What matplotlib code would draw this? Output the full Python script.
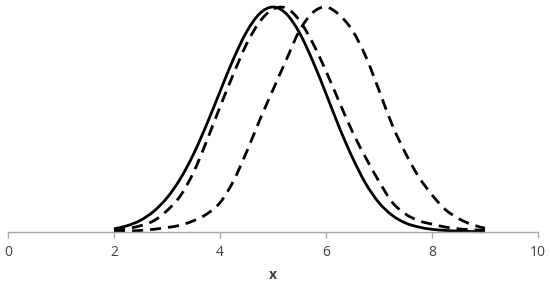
import matplotlib
matplotlib.use("Agg")
import matplotlib.pyplot as plt
from matplotlib.path import Path
from matplotlib.patches import PathPatch

x_vals = [2.0, 2.25, 2.5, 2.75, 3.0, 3.25, 3.5, 3.75, 4.0, 4.25, 4.5, 4.75, 5.0, 5.25,
          5.5, 5.75, 6.0, 6.25, 6.5, 6.75, 7.0, 7.25, 7.5, 7.75, 8.0, 8.25, 8.5, 8.75, 9.0]

solid_a = [0.014, 0.028, 0.052, 0.092, 0.152, 0.236, 0.346, 0.479, 0.624, 0.767, 0.889, 0.971,
           1.0, 0.97, 0.885, 0.76, 0.615, 0.465, 0.33, 0.215, 0.13, 0.074, 0.04, 0.022,
           0.012, 0.007, 0.004, 0.002, 0.001]

dashed_b = [0.008, 0.015, 0.028, 0.05, 0.095, 0.16, 0.265, 0.405, 0.556, 0.70, 0.835, 0.935,
            0.99, 0.995, 0.94, 0.84, 0.715, 0.578, 0.445, 0.33, 0.225, 0.132, 0.08, 0.05,
            0.035, 0.022, 0.014, 0.01, 0.007]

dashed_c = [0.002, 0.004, 0.007, 0.012, 0.02, 0.03, 0.05, 0.08, 0.13, 0.225, 0.355, 0.498,
            0.632, 0.765, 0.895, 0.975, 1.0, 0.965, 0.895, 0.78, 0.63, 0.475, 0.35, 0.245,
            0.165, 0.1, 0.06, 0.033, 0.017]

x_ticks = [0, 2, 4, 6, 8, 10]


def smooth_path(xs, ys):
    """Excel-style smoothed line: cubic Bezier segments through the data points."""
    pts = list(zip(xs, ys))
    n = len(pts)
    verts = [pts[0]]
    codes = [Path.MOVETO]
    for i in range(n - 1):
        p0 = pts[i - 1] if i > 0 else pts[i]
        p1 = pts[i]
        p2 = pts[i + 1]
        p3 = pts[i + 2] if i + 2 < n else pts[i + 1]
        c1 = (p1[0] + (p2[0] - p0[0]) / 6, p1[1] + (p2[1] - p0[1]) / 6)
        c2 = (p2[0] - (p3[0] - p1[0]) / 6, p2[1] - (p3[1] - p1[1]) / 6)
        verts += [c1, c2, p2]
        codes += [Path.CURVE4, Path.CURVE4, Path.CURVE4]
    return Path(verts, codes)


plt.rcParams['font.family'] = ['Open Sans', 'DejaVu Sans']

fig = plt.figure(figsize=(5.5, 2.87), dpi=100)
ax = fig.add_axes([8 / 550, 55 / 287, 530 / 550, 225 / 287])

series = [(solid_a, '-'), (dashed_b, (0, (4.0, 2.5))), (dashed_c, (0, (4.0, 2.5)))]
for ys, ls in series:
    patch = PathPatch(smooth_path(x_vals, ys), fill=False, edgecolor='black',
                      lw=2.0, linestyle=ls, capstyle='butt', clip_on=False)
    ax.add_patch(patch)

ax.set_xlim(0, 10)
ax.set_ylim(0, 1.0)
ax.set_xticks(x_ticks)
ax.set_xticklabels([str(t) for t in x_ticks])
ax.set_yticks([])
for s in ['left', 'right', 'top']:
    ax.spines[s].set_visible(False)
ax.spines['bottom'].set_color('#a6a6a6')
ax.spines['bottom'].set_linewidth(1.0)
ax.tick_params(axis='x', direction='out', length=4, width=1.0, color='#a6a6a6',
               labelsize=10, labelcolor='#404040', pad=5)
ax.set_xlabel('x', fontsize=10, fontweight='bold', color='#404040', labelpad=6)

fig.savefig('out.png', dpi=100)
